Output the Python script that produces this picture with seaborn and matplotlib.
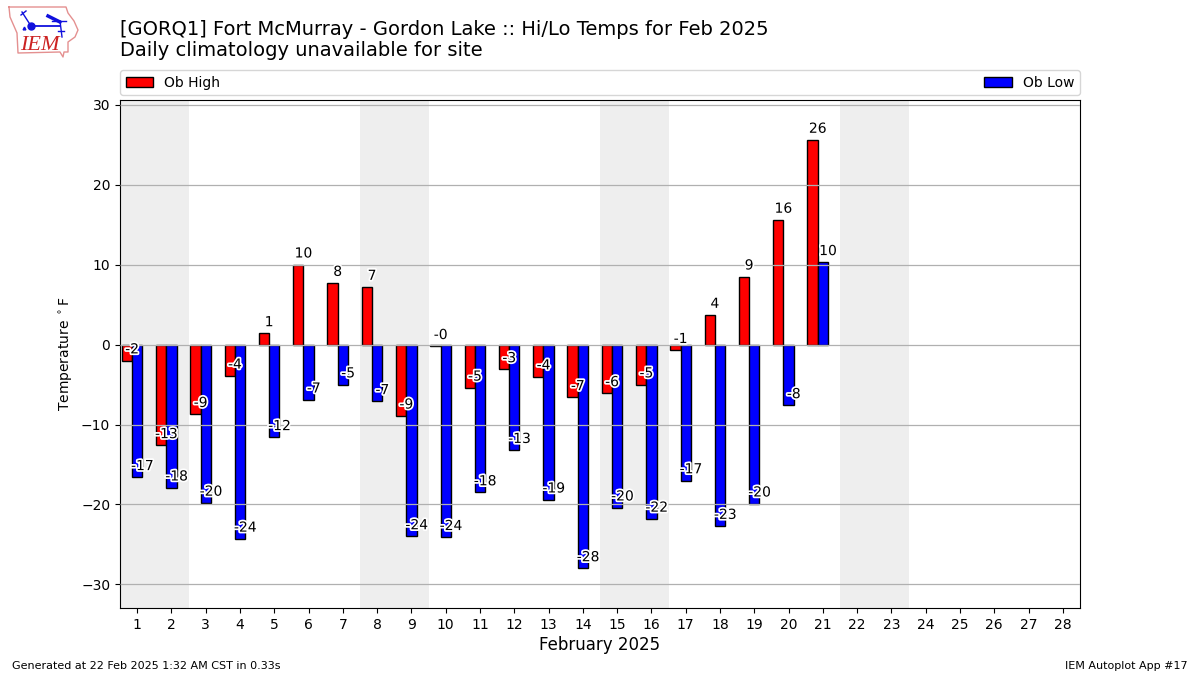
import matplotlib
matplotlib.use("Agg")
import matplotlib.pyplot as plt
import matplotlib.patheffects as pe
import pandas as pd
import seaborn as sns

days = list(range(1, 22))
highs = [-2.0, -12.6, -8.7, -3.9, 1.4, 10.0, 7.7, 7.2, -8.9, -0.2, -5.4, -3.1, -4.0,
         -6.6, -6.1, -5.0, -0.7, 3.7, 8.5001, 15.6, 25.6]
lows = [-16.6, -17.9, -19.8, -24.3, -11.6, -6.9, -5.0, -7.1, -24.0, -24.1, -18.5, -13.2,
        -19.4, -28.0, -20.4, -21.8, -17.0, -22.7, -19.9, -7.6, 10.3]
all_days = list(range(1, 29))
y_ticks = [-30, -20, -10, 0, 10, 20, 30]
weekends = [(0.5, 2.5), (7.5, 9.5), (14.5, 16.5), (21.5, 23.5)]
title = "[GORQ1] Fort McMurray - Gordon Lake :: Hi/Lo Temps for Feb 2025\nDaily climatology unavailable for site"
OFFSET = -0.15
BAR_W = 0.3

df = pd.DataFrame({
    "pos": [d + OFFSET for d in days] * 2,
    "temp": highs + lows,
    "series": ["Ob High"] * len(days) + ["Ob Low"] * len(days),
})

fig = plt.figure(figsize=(12, 6.75), dpi=100)
ax = fig.add_axes([120 / 1200, 1 - 608 / 675, 960 / 1200, 508 / 675])

for a, b in weekends:
    ax.axvspan(a, b, color="#eeeeee", lw=0, zorder=0)

sns.barplot(data=df, x="pos", y="temp", hue="series", native_scale=True, width=0.6,
            dodge=True, errorbar=None, saturation=1, edgecolor="black", linewidth=1,
            palette={"Ob High": "#ff0000", "Ob Low": "#0000ff"}, ax=ax, zorder=2)

effects = [pe.withStroke(linewidth=2.5, foreground="white")]
for d, hi, lo in zip(days, highs, lows):
    ax.text(d + OFFSET, hi + 1.4, f"{hi:.0f}", ha="center", va="center", fontsize=10,
            path_effects=effects, zorder=5)
    ax.text(d + OFFSET + BAR_W, lo + 1.4, f"{lo:.0f}", ha="center", va="center", fontsize=10,
            path_effects=effects, zorder=5)

ax.set_xlim(0.5, 28.5)
ax.set_ylim(-32.95, 30.6)
ax.set_xticks(all_days)
ax.set_xticklabels([str(d) for d in all_days])
ax.set_yticks(y_ticks)
ax.tick_params(labelsize=10)
ax.set_axisbelow(False)
ax.yaxis.grid(True, color="#b0b0b0", lw=0.9)
ax.xaxis.grid(False)
ax.set_xlabel("February 2025", fontsize=12, labelpad=3)
ax.set_ylabel(r"Temperature $^\circ$F", fontsize=10, labelpad=4.5)

handles, labels = ax.get_legend_handles_labels()
ax.legend(handles, labels, loc="lower left", bbox_to_anchor=(0, 1.0095, 1, 0.05), mode="expand",
          ncol=2, borderaxespad=0, fontsize=10, title=None, frameon=True)

fig.text(120 / 1200, 1 - 20 / 675, title, fontsize=14, va="top", ha="left", linespacing=1.13)
fig.text(12 / 1200, 1 - 666 / 675, "Generated at 22 Feb 2025 1:32 AM CST in 0.33s",
         fontsize=8, va="center", ha="left")
fig.text(1188 / 1200, 1 - 666 / 675, "IEM Autoplot App #17", fontsize=8, va="center", ha="right")

# IEM logo: Iowa outline with a small station-plot glyph
logo = fig.add_axes([0, 1 - 60 / 675, 84 / 1200, 60 / 675])
logo.set_xlim(0, 84)
logo.set_ylim(60, 0)
logo.axis("off")
outline_x = [9, 66, 68, 74, 78, 75, 68, 68, 64, 63, 60, 18, 17, 10, 9]
outline_y = [7, 7, 13, 21, 30, 37, 42, 52, 52, 57, 52, 53, 33, 17, 7]
logo.plot(outline_x, outline_y, color="#e49090", lw=1)
logo.plot([31, 60], [26, 26], color="#1010dd", lw=1.3)
logo.plot([22, 31], [12, 26], color="#1010dd", lw=1)
logo.plot([21, 26], [15, 11], color="#1010dd", lw=1)
logo.plot([48, 60], [16, 22], color="#1010dd", lw=2.5)
logo.plot([52, 66], [21, 21], color="#1010dd", lw=1)
logo.plot([60, 62], [21, 37], color="#1010dd", lw=1)
logo.plot([58, 64], [31, 31], color="#1010dd", lw=1)
logo.plot([31], [26], "o", color="#1010dd", ms=5)
logo.plot([24], [28], "^", color="#1010dd", ms=2)
logo.text(20, 45, "IEM", color="#cc2222", fontsize=16, family="Liberation Serif",
          style="italic", va="center", ha="left")

fig.savefig("out.png", dpi=100)
